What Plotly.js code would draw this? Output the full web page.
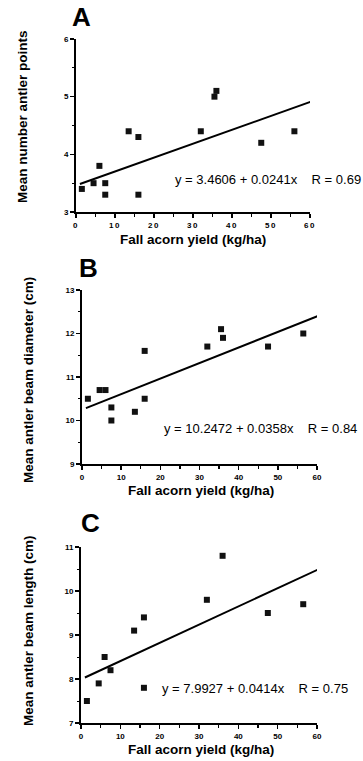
<!DOCTYPE html>
<html>
<head>
<meta charset="utf-8">
<script src="https://cdn.plot.ly/plotly-3.0.1.min.js"></script>
<style>
html,body{margin:0;padding:0;background:#fff;}
.xtick text{letter-spacing:1.5px;}
</style>
</head>
<body>
<div id="chart" style="width:363px;height:761px;"></div>
<script>
// ---- data ----
const panelLetters = ["A", "B", "C"];
const xTitle = "Fall acorn yield (kg/ha)";
const yTitles = ["Mean number antler points", "Mean antler beam diameter (cm)", "Mean antler beam length (cm)"];

const xA = [1.5, 4.5, 6, 7.5, 7.5, 13.5, 16, 16, 32, 35.5, 36, 47.5, 56];
const yA = [3.4, 3.5, 3.8, 3.5, 3.3, 4.4, 4.3, 3.3, 4.4, 5.0, 5.1, 4.2, 4.4];

const xB = [1.5, 4.5, 6, 7.5, 7.5, 13.5, 16, 16, 32, 35.5, 36, 47.5, 56.5];
const yB = [10.5, 10.7, 10.7, 10.3, 10.0, 10.2, 11.6, 10.5, 11.7, 12.1, 11.9, 11.7, 12.0];

const xC = [1.5, 4.5, 6, 7.5, 13.5, 16, 16, 32, 36, 47.5, 56.5];
const yC = [7.5, 7.9, 8.5, 8.2, 9.1, 9.4, 7.8, 9.8, 10.8, 9.5, 9.7];

const intercepts = [3.4606, 10.2472, 7.9927];
const slopes = [0.0241, 0.0358, 0.0414];
const rValues = [0.69, 0.84, 0.75];
const fitXRange = [1, 61];

const xRange = [0, 60];
const xTickVals = [0, 10, 20, 30, 40, 50, 60];
const yRanges = [[3, 6], [9, 13], [7, 11]];
const yTickVals = [[3, 4, 5, 6], [9, 10, 11, 12, 13], [7, 8, 9, 10, 11]];

// ---- build ----
const W = 363, H = 761;
const FONT = "Arial, 'Liberation Sans', Helvetica, sans-serif";
const xs = [xA, xB, xC], ys = [yA, yB, yC];

// pixel layout of each panel: [left, right, top, bottom]
const boxes = [[76, 310, 39, 212], [82, 317, 290, 464], [81, 317, 547, 723]];
const letterPos = [[81, 17], [88, 268], [90, 523]];
const eqPos = [[173, 180], [162, 428], [160, 688]];
const yTitlePos = [[22, 117], [28, 380], [28, 631]];
const xTitlePos = [[193, 239], [201, 490], [201, 749]];

const data = [];
const layout = {
  width: W, height: H,
  margin: {l: 0, r: 0, t: 0, b: 0},
  paper_bgcolor: "#fff", plot_bgcolor: "#fff",
  showlegend: false,
  font: {family: FONT, color: "#000"},
  annotations: []
};

for (let i = 0; i < 3; i++) {
  const sfx = i === 0 ? "" : String(i + 1);
  const xa = "x" + sfx, ya = "y" + sfx;
  const [l, r, t, b] = boxes[i];
  data.push({
    type: "scatter", mode: "markers", x: xs[i], y: ys[i], xaxis: xa, yaxis: ya,
    marker: {symbol: "square", size: 6, color: "#111", line: {width: 0}},
    cliponaxis: false, hoverinfo: "skip"
  });
  const fx = fitXRange;
  data.push({
    type: "scatter", mode: "lines", x: fx, y: fx.map(v => intercepts[i] + slopes[i] * v),
    xaxis: xa, yaxis: ya, line: {color: "#000", width: 2}, hoverinfo: "skip"
  });
  layout["xaxis" + sfx] = {
    domain: [l / W, r / W], anchor: ya, range: xRange,
    tickvals: xTickVals, ticks: "outside", ticklen: 4, tickwidth: 1.5, tickcolor: "#000",
    minor: {dtick: 5, ticks: "outside", ticklen: 3, tickwidth: 1.2, tickcolor: "#000", showgrid: false},
    showline: true, linewidth: 2, linecolor: "#000", showgrid: false, zeroline: false,
    tickfont: {family: FONT, size: 8, color: "#000", weight: "bold"}, fixedrange: true
  };
  layout["yaxis" + sfx] = {
    domain: [1 - b / H, 1 - t / H], anchor: xa, range: yRanges[i],
    tickvals: yTickVals[i], ticks: "outside", ticklen: 4, tickwidth: 1.5, tickcolor: "#000",
    minor: {dtick: 0.5, ticks: "outside", ticklen: 2, tickwidth: 1, tickcolor: "#000", showgrid: false},
    showline: true, linewidth: 2, linecolor: "#000", showgrid: false, zeroline: false,
    tickfont: {family: FONT, size: 8, color: "#000", weight: "bold"}, fixedrange: true
  };
  layout.annotations.push({
    xref: "paper", yref: "paper", x: letterPos[i][0] / W, y: 1 - letterPos[i][1] / H,
    xanchor: "center", yanchor: "middle", showarrow: false,
    text: "<b>" + panelLetters[i] + "</b>", font: {family: FONT, size: 26, color: "#000"}
  });
  layout.annotations.push({
    xref: "paper", yref: "paper", x: eqPos[i][0] / W, y: 1 - eqPos[i][1] / H,
    xanchor: "left", yanchor: "middle", showarrow: false,
    text: "y = " + intercepts[i].toFixed(4) + " + " + slopes[i].toFixed(4) + "x\u00a0\u00a0\u00a0\u00a0R = " + rValues[i].toFixed(2),
    font: {family: FONT, size: 13, color: "#000"}
  });
  layout.annotations.push({
    xref: "paper", yref: "paper", x: yTitlePos[i][0] / W, y: 1 - yTitlePos[i][1] / H,
    xanchor: "center", yanchor: "middle", showarrow: false, textangle: -90,
    text: "<b>" + yTitles[i] + "</b>", font: {family: FONT, size: 13.5, color: "#000"}
  });
  layout.annotations.push({
    xref: "paper", yref: "paper", x: xTitlePos[i][0] / W, y: 1 - xTitlePos[i][1] / H,
    xanchor: "center", yanchor: "middle", showarrow: false,
    text: "<b>" + xTitle + "</b>", font: {family: FONT, size: 13.5, color: "#000"}
  });
}

Plotly.newPlot("chart", data, layout, {staticPlot: true, displayModeBar: false});
</script>
</body>
</html>
